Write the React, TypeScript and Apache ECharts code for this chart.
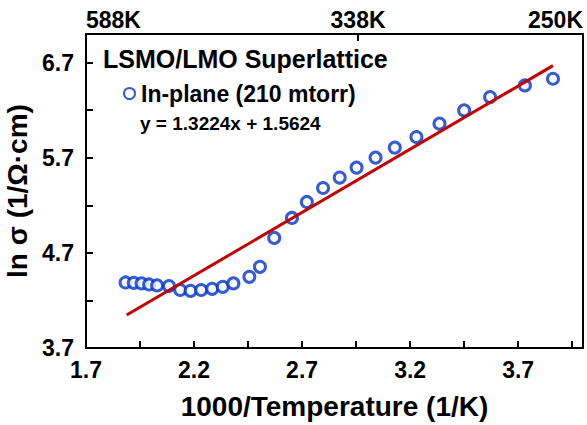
import { useEffect, useRef } from 'react';
import * as echarts from 'echarts';

// 1000/T (1/K) and ln(sigma)
const xValues = [
  1.883, 1.921, 1.957, 1.992, 2.029, 2.084, 2.136, 2.184, 2.233, 2.284,
  2.333, 2.382, 2.456, 2.505, 2.571, 2.653, 2.722, 2.797, 2.874, 2.952,
  3.040, 3.129, 3.229, 3.336, 3.450, 3.570, 3.731, 3.861,
];
const yValues = [
  4.389, 4.385, 4.379, 4.368, 4.358, 4.351, 4.309, 4.301, 4.309, 4.322,
  4.343, 4.379, 4.448, 4.553, 4.857, 5.067, 5.235, 5.382, 5.491, 5.596,
  5.701, 5.806, 5.917, 6.058, 6.197, 6.337, 6.460, 6.530,
];
// linear fit line end points
const fitX = [1.888, 3.861];
const fitY = [4.046, 6.668];

const bottomTickLabels = ['1.7', '2.2', '2.7', '3.2', '3.7'];
const yTickLabels = ['3.7', '4.7', '5.7', '6.7'];
const topTickValues = [1.7, 2.959, 4.0];
const topTickLabels = ['588K', '338K', '250K'];
const topMarkTicks = [2.959];

const seriesName = 'In-plane (210 mtorr)';
const titleText = 'LSMO/LMO Superlattice';
const equationText = 'y = 1.3224x + 1.5624';
const xName = '1000/Temperature (1/K)';
const yName = 'ln σ (1/Ω·cm)';

const FONT = "'Liberation Sans', Arial, Helvetica, sans-serif";
const BLUE = '#0033cc';
const RED = '#c40000';

function pickLabel(v: number, list: string[]): string {
  const s = v.toFixed(1);
  if (Math.abs(v - parseFloat(s)) > 1e-6) return '';
  return list.includes(s) ? s : '';
}

export default function App() {
  const ref = useRef<HTMLDivElement>(null);
  useEffect(() => {
    if (!ref.current) return;
    const chart = echarts.init(ref.current, null, { renderer: 'svg' });
    const axisLine = { show: true, lineStyle: { color: '#000', width: 2 } };
    const labelStyle = { color: '#000', fontSize: 23, fontWeight: 'bold' as const, fontFamily: FONT };
    chart.setOption({
      animation: false,
      backgroundColor: '#fff',
      grid: { left: 86, right: 4, top: 34, bottom: 77, containLabel: false, outerBoundsMode: 'none' },
      title: [
        {
          text: titleText,
          left: 103,
          top: 46,
          padding: 0,
          textStyle: { color: '#000', fontSize: 25, fontWeight: 'bold', fontFamily: FONT },
        },
        {
          text: equationText,
          left: 140,
          top: 114,
          padding: 0,
          textStyle: { color: '#000', fontSize: 19, fontWeight: 'bold', fontFamily: FONT },
        },
      ],
      legend: {
        data: [seriesName],
        left: 123,
        top: 82,
        padding: 0,
        itemWidth: 11,
        itemHeight: 11,
        itemGap: 10,
        textStyle: { color: '#000', fontSize: 23, fontWeight: 'bold', fontFamily: FONT, padding: [0, 0, 0, 1] },
      },
      xAxis: [
        {
          type: 'value',
          position: 'bottom',
          min: 1.7,
          max: 4.0,
          interval: 0.25,
          axisLine,
          axisTick: { show: true, inside: true, length: 7, lineStyle: { color: '#000', width: 2 } },
          axisLabel: {
            ...labelStyle,
            margin: 10,
            showMinLabel: true,
            showMaxLabel: true,
            formatter: (v: number) => pickLabel(v, bottomTickLabels),
          },
          splitLine: { show: false },
          name: xName,
          nameLocation: 'middle',
          nameGap: 44,
          nameTextStyle: { color: '#000', fontSize: 28, fontWeight: 'bold', fontFamily: FONT },
        },
        {
          type: 'value',
          position: 'top',
          min: 1.7,
          max: 4.0,
          axisLine,
          axisTick: {
            show: true,
            inside: true,
            length: 7,
            customValues: topMarkTicks,
            lineStyle: { color: '#000', width: 2 },
          },
          axisLabel: {
            ...labelStyle,
            margin: 3,
            customValues: topTickValues,
            alignMinLabel: 'left',
            alignMaxLabel: 'right',
            formatter: (v: number) => {
              let best = 0;
              for (let i = 1; i < topTickValues.length; i++) {
                if (Math.abs(topTickValues[i] - v) < Math.abs(topTickValues[best] - v)) best = i;
              }
              return topTickLabels[best];
            },
          },
          splitLine: { show: false },
        },
      ],
      yAxis: [
        {
          type: 'value',
          position: 'left',
          min: 3.7,
          max: 7.0,
          interval: 0.5,
          axisLine,
          axisTick: { show: true, inside: true, length: 7, lineStyle: { color: '#000', width: 2 } },
          axisLabel: {
            ...labelStyle,
            margin: 12,
            showMinLabel: true,
            showMaxLabel: true,
            formatter: (v: number) => pickLabel(v, yTickLabels),
          },
          splitLine: { show: false },
          name: yName,
          nameLocation: 'middle',
          nameGap: 41,
          nameRotate: 90,
          nameTextStyle: { color: '#000', fontSize: 28, fontWeight: 'bold', fontFamily: FONT },
        },
        {
          type: 'value',
          position: 'right',
          min: 3.7,
          max: 7.0,
          axisLine,
          axisTick: { show: false },
          axisLabel: { show: false },
          splitLine: { show: false },
        },
      ],
      series: [
        {
          type: 'scatter',
          name: seriesName,
          data: xValues.map((x, i) => [x, yValues[i]]),
          symbol: 'circle',
          symbolSize: 11,
          itemStyle: { color: '#ffffff', borderColor: BLUE, borderWidth: 3 },
          z: 2,
        },
        {
          type: 'line',
          name: 'fit',
          data: fitX.map((x, i) => [x, fitY[i]]),
          symbol: 'none',
          lineStyle: { color: RED, width: 3 },
          z: 3,
        },
      ],
    });
    return () => chart.dispose();
  }, []);
  return (
    <div
      ref={ref}
      style={{ position: 'fixed', left: 0, top: 0, width: 587, height: 425, background: '#fff' }}
    />
  );
}
